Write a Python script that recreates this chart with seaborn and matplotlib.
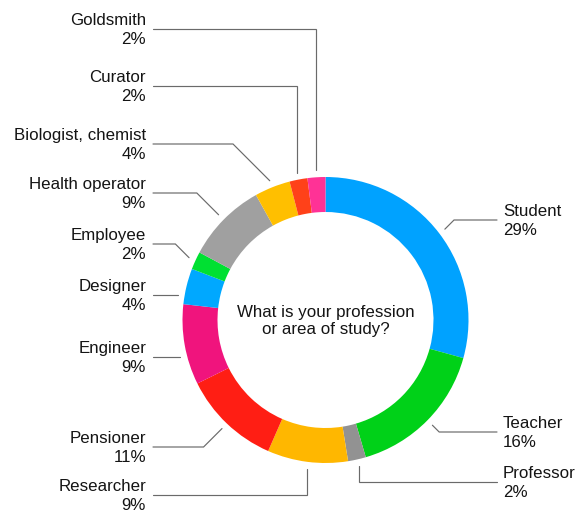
import numpy as np
import matplotlib
matplotlib.use("Agg")
import matplotlib.pyplot as plt
import seaborn as sns

# Survey answers, clockwise from 12 o'clock
professions = ["Student", "Teacher", "Professor", "Researcher", "Pensioner",
               "Engineer", "Designer", "Employee", "Health operator",
               "Biologist, chemist", "Curator", "Goldsmith"]
shares = [29, 16, 2, 9, 11, 9, 4, 2, 9, 4, 2, 2]
slice_colors = ["#00A2FF", "#00D118", "#929292", "#FFB700", "#FF1E14",
                "#F0147D", "#00A8FF", "#00E032", "#A0A0A0", "#FFBF00",
                "#FF4119", "#FF3296"]
question = "What is your profession\nor area of study?"

# Label layout (pixel space, y downwards)
label_side = ["R", "R", "R", "L", "L", "L", "L", "L", "L", "L", "L", "L"]
label_y = [220, 432, 482, 495, 447, 357, 295, 244, 193, 144, 86, 29]
leader_kind = ["diag", "diag", "vert", "vert", "diag", "flat", "flat",
               "diag", "diag", "diag", "vert", "vert"]

W, H = 576, 512
CX, CY = 325.5, 320.0
R_OUT, RING = 143.0, 35.0
R_LEAD = 150.0
LEFT_TEXT_X, LEFT_LINE_X = 146, 153
RIGHT_TEXT_X, RIGHT_LINE_X = 503, 497
LINE_COLOR = "#6a6a6a"
FS = 12.2

sns.set_theme(style="white")
plt.rcParams["font.family"] = ["Liberation Sans", "DejaVu Sans"]

fig = plt.figure(figsize=(W / 100, H / 100), dpi=100)
ax = fig.add_axes([0, 0, 1, 1])

palette = sns.color_palette(slice_colors)
# y axis is inverted below, so counter-clockwise in data reads clockwise on screen
wedges, _ = ax.pie(shares, colors=palette, startangle=-90, counterclock=True,
                   radius=R_OUT, center=(CX, CY),
                   wedgeprops=dict(width=RING, linewidth=0))

ax.set_xlim(0, W)
ax.set_ylim(H, 0)
ax.set_aspect("equal")
ax.axis("off")

total = float(sum(shares))
cum = np.cumsum([0] + shares)
for i, name in enumerate(professions):
    mid = np.deg2rad((cum[i] + shares[i] / 2) / total * 360.0)
    ex = CX + R_LEAD * np.sin(mid)
    ey = CY - R_LEAD * np.cos(mid)
    ly = label_y[i]
    right = label_side[i] == "R"
    sx = RIGHT_LINE_X if right else LEFT_LINE_X
    if leader_kind[i] == "vert":
        pts = [(sx, ly), (ex, ly), (ex, ey)]
    elif leader_kind[i] == "diag":
        bx = ex + abs(ey - ly) if right else ex - abs(ey - ly)
        pts = [(sx, ly), (bx, ly), (ex, ey)]
    else:
        dx = np.sqrt(R_LEAD ** 2 - (ly - CY) ** 2)
        fx = CX + dx if right else CX - dx
        pts = [(sx, ly), (fx, ly)]
    xs, ys = zip(*pts)
    ax.plot(xs, ys, color=LINE_COLOR, lw=0.85, solid_joinstyle="miter")

    txt = f"{name}\n{shares[i]}%"
    if right:
        ax.text(RIGHT_TEXT_X, ly + 1, txt, ha="left", va="center",
                fontsize=FS, color="#141414", linespacing=1.3)
    else:
        ax.text(LEFT_TEXT_X, ly + 1, txt, ha="right", va="center",
                multialignment="right", fontsize=FS, color="#141414",
                linespacing=1.3)

ax.text(CX, CY + 1, question, ha="center", va="center",
        multialignment="center", fontsize=FS, color="#141414",
        linespacing=1.2)

fig.savefig("out.png", dpi=100, facecolor="white")
